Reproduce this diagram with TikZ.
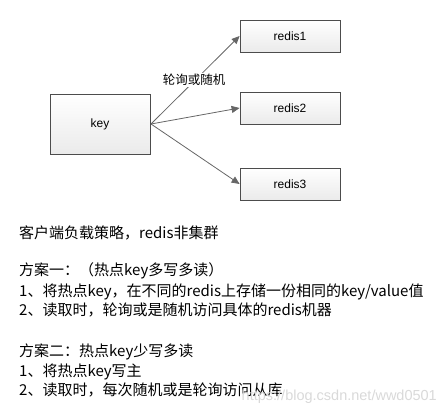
\documentclass[tikz,border=0pt]{standalone}
\usepackage{fontspec}
\setmainfont{Liberation Sans}
\newfontfamily\cjk{Noto Sans CJK SC}
\usetikzlibrary{arrows.meta}
\begin{document}
\begin{tikzpicture}[x=1pt,y=-1pt,
  boxstyle/.style={draw=black!70, line width=0.8pt, top color=white, bottom color=black!8, inner sep=0pt, font=\fontsize{12}{14}\selectfont},
  conn/.style={draw=black!60, line width=0.8pt, -{Triangle[length=8pt,width=7pt]}},
  txt/.style={anchor=west, inner sep=0pt, font=\cjk\fontsize{15}{18}\selectfont}]
\useasboundingbox (0,0) rectangle (447,417);
\node[boxstyle, minimum width=100pt, minimum height=60pt] (key) at (100,124) {key};
\node[boxstyle, minimum width=100pt, minimum height=32pt] (r1) at (290,36) {redis1};
\node[boxstyle, minimum width=100pt, minimum height=32pt] (r2) at (290,108) {redis2};
\node[boxstyle, minimum width=100pt, minimum height=32pt] (r3) at (290,184) {redis3};
\coordinate (src) at (151,124);
\draw[conn] (src) -- (r1.west);
\draw[conn] (src) -- (r2.west);
\draw[conn] (src) -- (r3.west);
\node[fill=white, inner sep=1pt, font=\cjk\fontsize{12.5}{14}\selectfont] (lab) at (194,80) {轮询或随机};
\node[txt] (t1) at (19,233) {客户端负载策略，redis非集群};
\node[txt] (t2) at (19,271) {方案一：（热点key多写多读）};
\node[txt] (t3) at (19,292) {1、将热点key，在不同的redis上存储一份相同的key/value值};
\node[txt] (t4) at (19,310) {2、读取时，轮询或是随机访问具体的redis机器};
\node[txt] (t5) at (19,352) {方案二：热点key少写多读};
\node[txt] (t6) at (19,372) {1、将热点key写主};
\node[txt] (t7) at (19,390) {2、读取时，每次随机或是轮询访问从库};
\node[anchor=east, inner sep=0pt, text=black!15, font=\fontsize{14.5}{16}\selectfont] (wm) at (437,397) {https://blog.csdn.net/wwd0501};
\end{tikzpicture}
\end{document}
